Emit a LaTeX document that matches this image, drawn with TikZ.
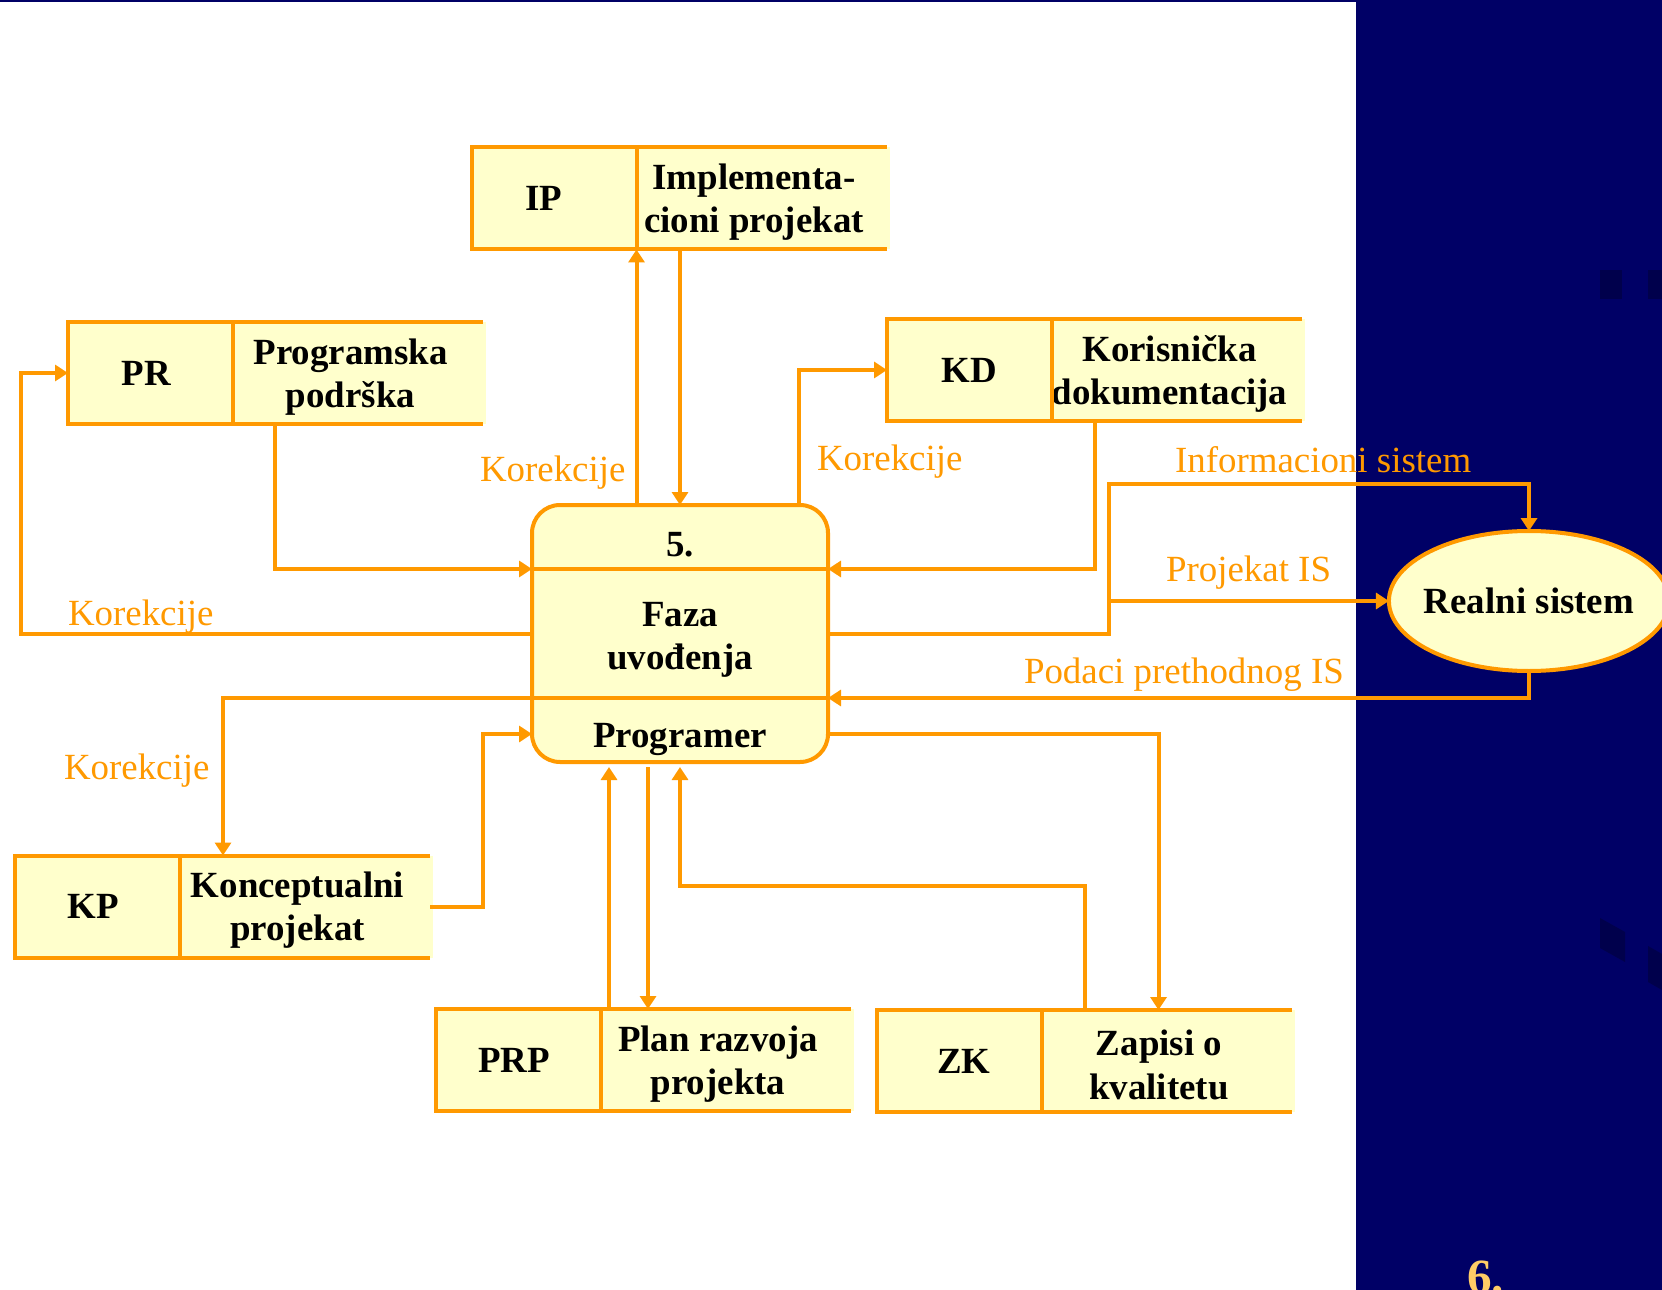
\documentclass[tikz,border=0pt]{standalone}
\usepackage{fontspec}
\setmainfont{Liberation Serif}
\usetikzlibrary{arrows.meta,shapes.geometric}
\pgfdeclarelayer{bg}
\pgfsetlayers{bg,main}
\definecolor{dfdorange}{RGB}{255,153,0}
\definecolor{dfdyellow}{RGB}{255,255,204}
\definecolor{slideblue}{RGB}{0,0,102}
\definecolor{slidegold}{RGB}{255,204,102}

\begin{document}
\begin{tikzpicture}
  [x=0.1mm,y=-0.1mm,line width=0.4mm,
   every node/.style={inner sep=1pt,outer sep=0pt,font=\fontsize{10.5}{12.3}\selectfont\bfseries},
   idcell/.style={rectangle,draw=dfdorange,fill=dfdyellow,minimum width=16.5mm,minimum height=10.2mm},
   namecell/.style={rectangle,align=center,xshift=11.75mm,yshift=-0.4mm},
   process/.style={rectangle,draw=dfdorange,fill=dfdyellow,rounded corners=2.8mm,minimum width=29.6mm,minimum height=25.7mm},
   realsys/.style={ellipse,draw=dfdorange,fill=dfdyellow,minimum width=28mm,minimum height=14mm,inner xsep=-0.6mm},
   flowline/.style={draw=dfdorange},
   flow/.style={draw=dfdorange,-{Triangle[length=1.3mm,width=1.6mm]}},
   flowlabel/.style={text=dfdorange,inner sep=0pt,anchor=base west,font=\fontsize{10.5}{12.3}\selectfont}]
  \useasboundingbox (0,0) rectangle (1662,1290);

  \node[idcell] (ip) at (554,198.5) {IP\hspace*{2mm}};
  \node[namecell] (ipn) at (ip.east) {Implementa-\\cioni projekat};
  \draw[flowline] ([xshift=25mm]ip.north east) -- (ip.north east) -- (ip.south east) -- ([xshift=25mm]ip.south east);

  \node[idcell] (pr) at (150.5,373) {PR\hspace*{0.8mm}};
  \node[namecell] (prn) at (pr.east) {Programska\\podrška};
  \draw[flowline] ([xshift=25mm]pr.north east) -- (pr.north east) -- (pr.south east) -- ([xshift=25mm]pr.south east);

  \node[idcell] (kd) at (969.5,370) {KD};
  \node[namecell] (kdn) at (kd.east) {Korisnička\\dokumentacija};
  \draw[flowline] ([xshift=25mm]kd.north east) -- (kd.north east) -- (kd.south east) -- ([xshift=25mm]kd.south east);

  \node[idcell] (kp) at (97.5,906.5) {KP\hspace*{0.8mm}};
  \node[namecell] (kpn) at (kp.east) {Konceptualni\\projekat};
  \draw[flowline] ([xshift=25mm]kp.north east) -- (kp.north east) -- (kp.south east) -- ([xshift=25mm]kp.south east);

  \node[idcell] (prp) at (518,1060) {PRP\hspace*{0.8mm}};
  \node[namecell] (prpn) at (prp.east) {Plan razvoja\\projekta};
  \draw[flowline] ([xshift=25mm]prp.north east) -- (prp.north east) -- (prp.south east) -- ([xshift=25mm]prp.south east);

  \node[idcell] (zk) at (959,1061) {\hspace*{1mm}ZK};
  \node[namecell] (zkn) at (zk.east) {Zapisi o\\kvalitetu};
  \draw[flowline] ([xshift=25mm]zk.north east) -- (zk.north east) -- (zk.south east) -- ([xshift=25mm]zk.south east);

  \node[process] (proc) at (680,633.5) {};
  \draw[flowline] (proc.west |- 0,569) coordinate (sepaw) -- (proc.east |- 0,569) coordinate (sepae);
  \draw[flowline] (proc.west |- 0,698) coordinate (sepbw) -- (proc.east |- 0,698) coordinate (sepbe);
  \node (procnum) at (680,545) {5.};
  \node[align=center] (procname) at (680,640) {Faza\\uvođenja};
  \node (procwho) at (680,739) {Programer};

  \node[realsys] (rs) at (1529,601) {Realni sistem};

  \draw[flow] ([xshift=4.2mm]pr.south east) |- (sepaw);
  \draw[flow] (proc.west) -- ++(-511,0) |- (pr.west);
  \draw[flow] (proc.north -| ip.east) -- (ip.south east);
  \draw[flow] (ip.south -| proc.north) -- (proc.north);
  \draw[flow] ([xshift=11.9mm]proc.north) |- (kd.west);
  \draw[flow] ([xshift=4.3mm]kd.south east) |- (sepae);
  \draw[flow] (proc.east) -- ++(281,0) coordinate (split) -- ++(0,-149.5) -| (rs.north);
  \draw[flow] (split |- rs.west) -- (rs.west);
  \draw[flow] (rs.south) |- (sepbe);
  \draw[flow] (sepbw) -| ([xshift=4.3mm]kp.north east);
  \draw[flow] ([xshift=25mm]kp.east) -- ++(53,0) |- (proc.west |- 0,734);
  \draw[flow] (proc.east |- 0,734) -| ([xshift=11.7mm]zk.north east);
  \draw[flow] ([xshift=4.3mm]zk.north east) -- ++(0,-124) -| ([yshift=-0.5mm]proc.south);
  \draw[flow] ([xshift=-7.1mm]proc.south |- prp.north) -- ([xshift=-7.1mm,yshift=-0.5mm]proc.south);
  \draw[flow] ([xshift=-3.2mm,yshift=-0.5mm]proc.south) -- ([xshift=-3.2mm]proc.south |- prp.north);

  \node[flowlabel] (korip) at (480,482) {Korekcije};
  \node[flowlabel] (korkd) at (817,470) {Korekcije};
  \node[flowlabel] (korpr) at (68,625) {Korekcije};
  \node[flowlabel] (korkp) at (64,779) {Korekcije};
  \node[flowlabel] (infsis) at (1175,473) {Informacioni sistem};
  \node[flowlabel] (projis) at (1166,582) {Projekat IS};
  \node[flowlabel] (podis) at (1024,683) {Podaci prethodnog IS};

  \node[text=slidegold,inner sep=0pt,anchor=base west,font=\fontsize{14}{16}\selectfont\bfseries] (slideno) at (1467,1293) {6.};

  \begin{pgfonlayer}{bg}
    \fill[slideblue] (1356,0) rectangle (1662,1290);
    \fill[slideblue] (0,0) rectangle (1356,2);
    \fill[slideblue!75!black] (1600,270) rectangle (1622,299);
    \fill[slideblue!75!black] (1648,270) rectangle (1662,299);
    \fill[slideblue!75!black] (1600,918) -- (1625,932) -- (1625,962) -- (1600,948) -- cycle;
    \fill[slideblue!75!black] (1648,946) -- (1662,954) -- (1662,990) -- (1648,982) -- cycle;
    \fill[dfdyellow] (ip.north east) rectangle ([xshift=25.3mm]ip.south east);
    \fill[dfdyellow] (pr.north east) rectangle ([xshift=25.3mm]pr.south east);
    \fill[dfdyellow] (kd.north east) rectangle ([xshift=25.3mm]kd.south east);
    \fill[dfdyellow] (kp.north east) rectangle ([xshift=25.3mm]kp.south east);
    \fill[dfdyellow] (prp.north east) rectangle ([xshift=25.3mm]prp.south east);
    \fill[dfdyellow] (zk.north east) rectangle ([xshift=25.3mm]zk.south east);
  \end{pgfonlayer}
\end{tikzpicture}
\end{document}
